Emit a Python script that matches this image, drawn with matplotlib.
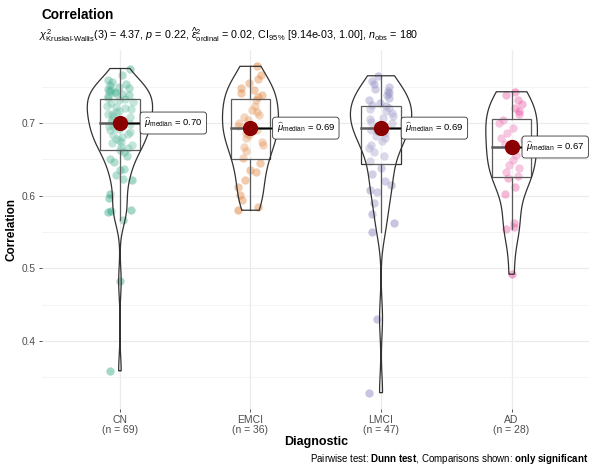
import matplotlib
matplotlib.use('Agg')
import matplotlib.pyplot as plt
import numpy as np

plt.rcParams.update({
    'font.family': 'Liberation Sans',
    'mathtext.fontset': 'custom',
    'mathtext.rm': 'Liberation Sans',
    'mathtext.it': 'Liberation Sans:italic',
    'mathtext.bf': 'Liberation Sans:bold',
})

# correlation values per diagnostic group
groups = ['CN', 'EMCI', 'LMCI', 'AD']
cn = [0.359, 0.482, 0.567, 0.577, 0.579, 0.580, 0.597, 0.602, 0.621, 0.623,
      0.628, 0.635, 0.637, 0.646, 0.651, 0.655, 0.660, 0.663, 0.665, 0.667,
      0.670, 0.672, 0.674, 0.676, 0.678, 0.681, 0.683, 0.685, 0.688, 0.690,
      0.692, 0.694, 0.696, 0.698, 0.700, 0.701, 0.703, 0.705, 0.708, 0.710,
      0.712, 0.713, 0.715, 0.717, 0.719, 0.720, 0.722, 0.724, 0.727, 0.729,
      0.731, 0.733, 0.735, 0.737, 0.738, 0.740, 0.741, 0.742, 0.744, 0.745,
      0.747, 0.748, 0.750, 0.752, 0.754, 0.757, 0.759, 0.766, 0.775]
emci = [0.580, 0.585, 0.594, 0.601, 0.612, 0.622, 0.633, 0.635, 0.645, 0.652,
        0.662, 0.667, 0.670, 0.674, 0.679, 0.683, 0.686, 0.690, 0.696, 0.700,
        0.704, 0.708, 0.711, 0.715, 0.718, 0.724, 0.732, 0.736, 0.738, 0.741,
        0.745, 0.748, 0.755, 0.760, 0.766, 0.778]
lmci = [0.329, 0.431, 0.550, 0.562, 0.575, 0.590, 0.605, 0.608, 0.615, 0.620,
        0.630, 0.638, 0.648, 0.654, 0.660, 0.666, 0.670, 0.675, 0.679, 0.682,
        0.686, 0.689, 0.691, 0.693, 0.696, 0.700, 0.702, 0.705, 0.707, 0.710,
        0.714, 0.716, 0.719, 0.721, 0.723, 0.725, 0.728, 0.732, 0.735, 0.738,
        0.741, 0.744, 0.747, 0.750, 0.753, 0.758, 0.765]
ad = [0.492, 0.554, 0.557, 0.562, 0.603, 0.612, 0.624, 0.627, 0.632, 0.638,
      0.642, 0.649, 0.656, 0.663, 0.671, 0.677, 0.680, 0.686, 0.693, 0.700,
      0.704, 0.712, 0.717, 0.721, 0.726, 0.732, 0.738, 0.743]
data = [cn, emci, lmci, ad]
colors = ['#1B9E77', '#D95F02', '#7570B3', '#E7298A']

subtitle = (r'$\chi^2_{\mathrm{Kruskal\text{-}Wallis}}(3)$ = 4.37, $\mathit{p}$ = 0.22, '
            r'$\widehat{\varepsilon}^2_{\mathrm{ordinal}}$ = 0.02, '
            r'CI$_{95\%}$ [9.14e-03, 1.00], $\mathit{n}_{\mathrm{obs}}$ = 180')
caption = (r'Pairwise test: $\mathbf{Dunn\ test}$, '
           r'Comparisons shown: $\mathbf{only\ significant}$')

# horizontal nudge of the median labels (axis units)
label_dx = [0.16, 0.175, 0.16, 0.085]


def kde(v, grid):
    v = np.asarray(v)
    q75, q25 = np.percentile(v, [75, 25])
    bw = 0.9 * min(v.std(ddof=1), (q75 - q25) / 1.34) * len(v) ** -0.2
    z = (grid[:, None] - v[None, :]) / bw
    return np.exp(-0.5 * z ** 2).sum(axis=1) / (len(v) * bw * np.sqrt(2 * np.pi))


fig = plt.figure(figsize=(5.89, 4.70), dpi=100)
ax = fig.add_axes([0.0706, 0.1298, 0.931, 0.7638])

x = np.arange(1, len(groups) + 1)
allv = np.concatenate([np.asarray(d) for d in data])
span = allv.max() - allv.min()
ax.set_xlim(0.4, len(groups) + 0.6)
ax.set_ylim(allv.min() - 0.05 * span, allv.max() + 0.05 * span)

# violin densities, scaled by area across groups
grids = [np.linspace(min(d), max(d), 512) for d in data]
dens = [kde(d, g) for d, g in zip(data, grids)]
dmax = max(dd.max() for dd in dens)

rng = np.random.default_rng(11)
for i, (vals, col) in enumerate(zip(data, colors)):
    xi = x[i]
    v = np.asarray(vals)
    jit = rng.uniform(-0.1, 0.1, len(v))
    ax.scatter(xi + jit, v, s=36, color=col, alpha=0.4, linewidths=0, zorder=2)

    q1, med, q3 = np.percentile(v, [25, 50, 75])
    iqr = q3 - q1
    lo = v[v >= q1 - 1.5 * iqr].min()
    hi = v[v <= q3 + 1.5 * iqr].max()
    bw = 0.15
    ax.add_patch(plt.Rectangle((xi - bw, q1), 2 * bw, iqr, facecolor=(1, 1, 1, 0.2),
                               edgecolor='#333333', lw=0.9, zorder=3))
    ax.plot([xi, xi], [q3, hi], color='#333333', lw=0.9, zorder=3)
    ax.plot([xi, xi], [lo, q1], color='#333333', lw=0.9, zorder=3)
    ax.plot([xi - bw, xi + bw], [med, med], color='#333333', lw=1.8, zorder=3)

    hw = dens[i] / dmax * 0.25
    g = grids[i]
    ax.fill(np.concatenate([xi - hw, (xi + hw)[::-1]]), np.concatenate([g, g[::-1]]),
            facecolor=(1, 1, 1, 0.2), edgecolor='#333333', lw=0.9, zorder=4)

    ax.plot([xi, xi + label_dx[i]], [med, med], color='black', lw=1.0, zorder=5)
    ax.plot(xi, med, 'o', ms=10, color='darkred', zorder=6)
    ax.text(xi + label_dx[i] + 0.025, med, r'$\widehat{\mu}_{\mathrm{median}}$ = ' + f'{med:.2f}',
            ha='left', va='center', fontsize=6.8, color='black', zorder=7,
            bbox=dict(boxstyle='round,pad=0.42,rounding_size=0.3', facecolor='white',
                      edgecolor='#333333', lw=0.6))

ax.set_xticks(x)
ax.set_xticklabels([f'{g}\n(n = {len(d)})' for g, d in zip(groups, data)],
                   fontsize=7.5, color='#4D4D4D', linespacing=1.0)
ax.set_yticks([0.4, 0.5, 0.6, 0.7])
ax.set_yticks([0.35, 0.45, 0.55, 0.65, 0.75], minor=True)
ax.tick_params(axis='y', labelsize=7.3, labelcolor='#4D4D4D', color='#333333',
               length=2.5, width=0.6, pad=1.5)
ax.tick_params(axis='y', which='minor', length=0)
ax.tick_params(axis='x', color='#333333', length=2.5, width=0.6, pad=2)
ax.grid(True, which='major', color='#EBEBEB', lw=0.9)
ax.grid(True, which='minor', axis='y', color='#F2F2F2', lw=0.6)
ax.set_axisbelow(True)
for s in ax.spines.values():
    s.set_visible(False)

ax.set_ylabel('Correlation', fontsize=8.5, fontweight='bold', va='center')
ax.yaxis.set_label_coords(-0.054, 0.5)
ax.set_xlabel('Diagnostic', fontsize=9, fontweight='bold', va='center')
ax.xaxis.set_label_coords(0.5, -0.091)

fig.text(41.6 / 589, 0.9596, 'Correlation', fontsize=9.8, fontweight='bold',
         ha='left', va='baseline')
fig.text(39 / 589, 0.916, subtitle, fontsize=7.75, ha='left', va='baseline')
fig.text(0.998, 0.0234, caption, fontsize=7, ha='right', va='center')

fig.savefig('out.png', dpi=100, facecolor='white')
